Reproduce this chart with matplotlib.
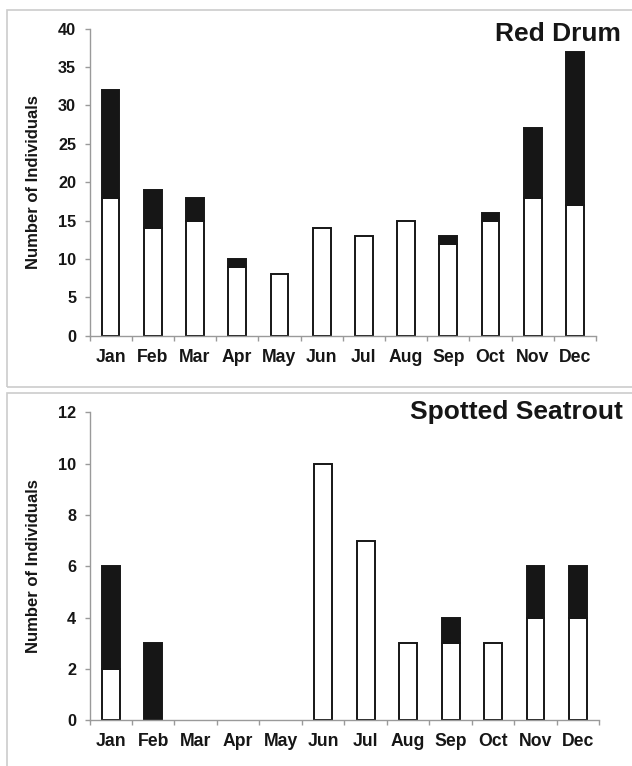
import matplotlib
matplotlib.use('Agg')
import matplotlib.pyplot as plt
import numpy as np
from matplotlib.patches import Rectangle

plt.rcParams['font.family'] = ['Liberation Sans', 'DejaVu Sans']
plt.rcParams['font.weight'] = 'bold'

months = ['Jan', 'Feb', 'Mar', 'Apr', 'May', 'Jun', 'Jul', 'Aug', 'Sep', 'Oct', 'Nov', 'Dec']

# white (lower) and black (upper) parts of each stacked bar
drum_white = [18, 14, 15, 9, 8, 14, 13, 15, 12, 15, 18, 17]
drum_black = [14, 5, 3, 1, 0, 0, 0, 0, 1, 1, 9, 20]
trout_white = [2, 0, 0, 0, 0, 10, 7, 3, 3, 3, 4, 4]
trout_black = [4, 3, 0, 0, 0, 0, 0, 0, 1, 0, 2, 2]

W, H = 632, 766
fig = plt.figure(figsize=(W / 100, H / 100), dpi=100)
INK = '#161616'
AXC = '#9a9a9a'

# panel frames
for (y0, y1) in [(10, 387.5), (392.5, 790)]:
    fig.patches.append(Rectangle((6.5 / W, 1 - y1 / H), 1.0, (y1 - y0) / H,
                                 transform=fig.transFigure, fill=False,
                                 edgecolor='#cccccc', linewidth=1.2))

def panel(rect, white, black, ymax, step, title, title_xy):
    ax = fig.add_axes(rect)
    x = np.arange(len(months))
    white = np.array(white)
    black = np.array(black)
    wmask = white > 0
    bmask = black > 0
    ax.bar(x[wmask], white[wmask], width=0.42, color='white',
           edgecolor=INK, linewidth=1.4, zorder=2)
    ax.bar(x[bmask], black[bmask], bottom=white[bmask], width=0.42,
           color=INK, edgecolor=INK, linewidth=1.4, zorder=2)
    ax.set_xlim(-0.5, len(months) - 0.5)
    ax.set_ylim(0, ymax)
    ax.set_yticks(np.arange(0, ymax + 0.1, step))
    ax.set_xticks(x)
    ax.set_xticklabels(months)
    ax.set_xticks(np.arange(-0.5, len(months)), minor=True)
    for s in ['top', 'right']:
        ax.spines[s].set_visible(False)
    for s in ['left', 'bottom']:
        ax.spines[s].set_color(AXC)
        ax.spines[s].set_linewidth(1.0)
        ax.spines[s].set_zorder(3)
    ax.tick_params(axis='x', which='major', length=0, pad=9.5,
                   labelsize=12.7, labelcolor=INK)
    ax.tick_params(axis='x', which='minor', length=3.6, color=AXC, width=1.0)
    ax.tick_params(axis='y', length=3.6, color=AXC, width=1.0, pad=6,
                   labelsize=11.7, labelcolor=INK)
    ax.set_ylabel('Number of Individuals', fontsize=12, fontweight='bold',
                  color=INK)
    # label position is its right edge in screen terms
    ax.yaxis.set_label_coords((41.5 - rect[0] * W) / (rect[2] * W), 0.5)
    fig.text(title_xy[0] / W, 1 - title_xy[1] / H, title, ha='right', va='center',
             fontsize=19, fontweight='bold', color=INK)
    return ax

panel([89.5 / W, 1 - 335.7 / H, (596 - 89.5) / W, (335.7 - 28.7) / H],
      drum_white, drum_black, 40, 5, 'Red Drum', (621, 34))
panel([89.5 / W, 1 - 720.3 / H, (599.3 - 89.5) / W, (720.3 - 412.3) / H],
      trout_white, trout_black, 12, 2, 'Spotted Seatrout', (623, 411.5))

fig.savefig('out.png', dpi=100)
